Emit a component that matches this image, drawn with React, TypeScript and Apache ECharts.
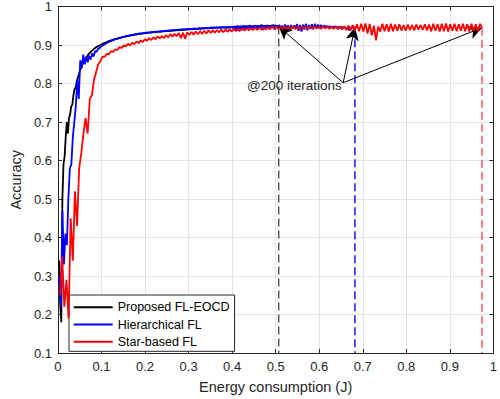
import React, { useEffect, useRef } from "react";
import * as echarts from "echarts";

const seriesNames = ["Proposed FL-EOCD", "Hierarchical FL", "Star-based FL"];
const seriesColors = ["#000000", "#0000ff", "#ff0000"];
const dashColors = ["#555555", "#0000ff", "rgba(255,0,0,0.7)"];
// energy consumed after the 200 iterations
const iterations = 200;
const energyAt200 = [0.507, 0.682, 0.974];

const accProposed = [
  0.34, 0.23, 0.18, 0.5, 0.59, 0.61, 0.66, 0.7, 0.67, 0.71,
  0.72, 0.74, 0.745, 0.77, 0.785, 0.79, 0.805, 0.815, 0.825, 0.835,
  0.84, 0.848, 0.855, 0.86, 0.865, 0.869, 0.873, 0.877, 0.88, 0.883,
  0.886, 0.888, 0.891, 0.893, 0.895, 0.896, 0.898, 0.899, 0.901, 0.902,
  0.904, 0.905, 0.906, 0.907, 0.909, 0.91, 0.911, 0.912, 0.913, 0.914,
  0.915, 0.916, 0.916, 0.917, 0.918, 0.919, 0.919, 0.92, 0.921, 0.921,
  0.922, 0.923, 0.923, 0.924, 0.924, 0.925, 0.925, 0.926, 0.926, 0.927,
  0.927, 0.928, 0.928, 0.929, 0.929, 0.929, 0.93, 0.93, 0.931, 0.931,
  0.931, 0.932, 0.932, 0.932, 0.933, 0.933, 0.934, 0.933, 0.934, 0.934,
  0.935, 0.934, 0.935, 0.935, 0.936, 0.935, 0.936, 0.936, 0.937, 0.936,
  0.937, 0.937, 0.937, 0.938, 0.937, 0.938, 0.938, 0.939, 0.938, 0.939,
  0.939, 0.939, 0.94, 0.939, 0.94, 0.94, 0.94, 0.941, 0.94, 0.941,
  0.941, 0.941, 0.942, 0.941, 0.942, 0.942, 0.942, 0.943, 0.942, 0.943,
  0.943, 0.943, 0.943, 0.944, 0.943, 0.944, 0.944, 0.944, 0.944, 0.945,
  0.944, 0.945, 0.945, 0.945, 0.945, 0.945, 0.946, 0.945, 0.946, 0.946,
  0.946, 0.946, 0.946, 0.946, 0.947, 0.946, 0.947, 0.946, 0.947, 0.947,
  0.947, 0.947, 0.947, 0.948, 0.947, 0.948, 0.947, 0.948, 0.948, 0.948,
  0.948, 0.948, 0.948, 0.949, 0.948, 0.948, 0.949, 0.948, 0.949, 0.949,
  0.949, 0.949, 0.949, 0.949, 0.949, 0.95, 0.949, 0.949, 0.95, 0.949,
  0.95, 0.949, 0.95, 0.95, 0.949, 0.95, 0.95, 0.95, 0.949, 0.948,
];

const accHierarchical = [
  0.3, 0.22, 0.47, 0.33, 0.41, 0.38, 0.5, 0.58, 0.59, 0.66,
  0.7, 0.74, 0.81, 0.76, 0.86, 0.84, 0.875, 0.85, 0.87, 0.855,
  0.872, 0.862, 0.878, 0.87, 0.884, 0.882, 0.89, 0.892, 0.896, 0.898,
  0.901, 0.903, 0.906, 0.907, 0.909, 0.911, 0.912, 0.914, 0.915, 0.916,
  0.918, 0.918, 0.92, 0.921, 0.922, 0.923, 0.924, 0.924, 0.926, 0.926,
  0.927, 0.928, 0.928, 0.929, 0.93, 0.93, 0.931, 0.931, 0.932, 0.932,
  0.933, 0.932, 0.934, 0.933, 0.935, 0.934, 0.935, 0.935, 0.936, 0.935,
  0.937, 0.936, 0.937, 0.937, 0.938, 0.937, 0.939, 0.938, 0.939, 0.939,
  0.94, 0.939, 0.941, 0.94, 0.941, 0.94, 0.942, 0.941, 0.942, 0.941,
  0.943, 0.942, 0.943, 0.941, 0.944, 0.942, 0.944, 0.943, 0.945, 0.943,
  0.945, 0.943, 0.946, 0.943, 0.946, 0.944, 0.946, 0.944, 0.947, 0.944,
  0.947, 0.944, 0.948, 0.943, 0.947, 0.945, 0.948, 0.944, 0.949, 0.938,
  0.951, 0.936, 0.95, 0.939, 0.951, 0.941, 0.95, 0.943, 0.952, 0.941,
  0.95, 0.943, 0.952, 0.94, 0.949, 0.945, 0.953, 0.939, 0.951, 0.944,
  0.952, 0.942, 0.95, 0.946, 0.953, 0.94, 0.951, 0.943, 0.952, 0.945,
  0.95, 0.941, 0.953, 0.944, 0.951, 0.939, 0.952, 0.943, 0.95, 0.946,
  0.954, 0.937, 0.952, 0.935, 0.953, 0.94, 0.955, 0.938, 0.952, 0.942,
  0.954, 0.941, 0.955, 0.943, 0.953, 0.944, 0.952, 0.945, 0.951, 0.946,
  0.95, 0.946, 0.949, 0.945, 0.948, 0.946, 0.949, 0.944, 0.948, 0.945,
  0.947, 0.944, 0.946, 0.943, 0.945, 0.938, 0.946, 0.944, 0.947, 0.946,
];

const accStar = [
  0.25, 0.35, 0.22, 0.29, 0.19, 0.45, 0.34, 0.52, 0.43, 0.58,
  0.62, 0.67, 0.71, 0.67, 0.76, 0.77, 0.81, 0.83, 0.85, 0.858,
  0.87, 0.869, 0.877, 0.876, 0.884, 0.882, 0.889, 0.887, 0.895, 0.892,
  0.899, 0.896, 0.903, 0.899, 0.906, 0.902, 0.909, 0.905, 0.912, 0.908,
  0.915, 0.911, 0.918, 0.913, 0.92, 0.915, 0.922, 0.917, 0.923, 0.918,
  0.926, 0.92, 0.928, 0.922, 0.929, 0.923, 0.931, 0.918, 0.932, 0.916,
  0.933, 0.926, 0.934, 0.927, 0.935, 0.928, 0.936, 0.929, 0.937, 0.93,
  0.938, 0.931, 0.938, 0.932, 0.939, 0.933, 0.94, 0.933, 0.94, 0.934,
  0.941, 0.935, 0.942, 0.936, 0.942, 0.937, 0.943, 0.937, 0.944, 0.938,
  0.944, 0.939, 0.945, 0.939, 0.945, 0.94, 0.946, 0.94, 0.946, 0.941,
  0.947, 0.942, 0.948, 0.941, 0.947, 0.942, 0.948, 0.942, 0.947, 0.942,
  0.948, 0.941, 0.947, 0.942, 0.948, 0.942, 0.947, 0.943, 0.948, 0.942,
  0.948, 0.943, 0.947, 0.942, 0.948, 0.943, 0.947, 0.942, 0.948, 0.942,
  0.947, 0.941, 0.948, 0.94, 0.949, 0.939, 0.95, 0.938, 0.952, 0.937,
  0.954, 0.936, 0.955, 0.935, 0.956, 0.93, 0.955, 0.925, 0.95, 0.912,
  0.948, 0.935, 0.955, 0.936, 0.954, 0.935, 0.955, 0.936, 0.953, 0.937,
  0.954, 0.938, 0.952, 0.937, 0.953, 0.939, 0.952, 0.938, 0.953, 0.94,
  0.952, 0.939, 0.954, 0.938, 0.953, 0.936, 0.955, 0.937, 0.954, 0.935,
  0.955, 0.936, 0.956, 0.935, 0.954, 0.937, 0.955, 0.936, 0.954, 0.937,
  0.955, 0.936, 0.954, 0.935, 0.955, 0.937, 0.954, 0.936, 0.955, 0.945,
];

const accuracies = [accProposed, accHierarchical, accStar];
const xTicks = { min: 0, max: 1, interval: 0.1 };
const yTicks = { min: 0.1, max: 1, interval: 0.1 };
const annotationText = "@200 iterations";
const arrowTail = [0.655, 0.802];

const FONT = "'Liberation Sans', Arial, Helvetica, sans-serif";
const AX = "#262626";

const fmt = (v: number) => String(parseFloat(v.toFixed(2)));

export default function App() {
  const ref = useRef<HTMLDivElement>(null);
  useEffect(() => {
    if (!ref.current) return;
    const chart = echarts.init(ref.current, undefined, { renderer: "svg" });

    const curves = accuracies.map((acc, s) => ({
      name: seriesNames[s],
      type: "line",
      symbol: "none",
      showSymbol: false,
      silent: true,
      z: 3 + s,
      lineStyle: { color: seriesColors[s], width: 1.8 },
      itemStyle: { color: seriesColors[s] },
      data: acc.map((a, i) => [(energyAt200[s] * (i + 1)) / iterations, a]),
    }));

    const dashes = accuracies.map((acc, s) => ({
      name: "dash" + s,
      type: "line",
      symbol: "none",
      silent: true,
      z: 2,
      lineStyle: { color: dashColors[s], width: 1.4, type: [8, 4] },
      data: [
        [energyAt200[s], acc[acc.length - 1]],
        [energyAt200[s], yTicks.min],
      ],
    }));

    const arrows = {
      name: "arrows",
      type: "line",
      symbol: "none",
      silent: true,
      z: 10,
      data: [arrowTail],
      lineStyle: { width: 0 },
      markLine: {
        silent: true,
        animation: false,
        symbol: ["none", "arrow"],
        symbolSize: [10, 13],
        label: { show: false },
        lineStyle: { color: "#000", width: 1, type: "solid" },
        data: accuracies.map((acc, s) => [
          { coord: arrowTail },
          { coord: [energyAt200[s], acc[acc.length - 1]] },
        ]),
      },
    };

    const axisCommon = {
      type: "value",
      axisLine: { show: true, onZero: false, lineStyle: { color: AX, width: 1 } },
      axisTick: { show: true, inside: true, length: 4, lineStyle: { color: AX } },
    };

    chart.setOption({
      animation: false,
      backgroundColor: "#ffffff",
      textStyle: { fontFamily: FONT },
      grid: { left: 56, right: 6, top: 6, bottom: 46 },
      xAxis: [
        {
          ...axisCommon,
          ...xTicks,
          position: "bottom",
          name: "Energy consumption (J)",
          nameLocation: "middle",
          nameGap: 26,
          nameTextStyle: { fontSize: 14.5, color: AX, fontFamily: FONT },
          axisLabel: { fontSize: 13, color: AX, margin: 7, formatter: fmt, fontFamily: FONT },
          splitLine: { show: true, lineStyle: { color: "#e3e3e3", width: 1 } },
        },
        {
          ...axisCommon,
          ...xTicks,
          position: "top",
          axisLabel: { show: false },
          splitLine: { show: false },
        },
      ],
      yAxis: [
        {
          ...axisCommon,
          ...yTicks,
          position: "left",
          name: "Accuracy",
          nameLocation: "middle",
          nameGap: 28,
          nameTextStyle: { fontSize: 14.5, color: AX, fontFamily: FONT },
          axisLabel: { fontSize: 13, color: AX, margin: 6, formatter: fmt, fontFamily: FONT },
          splitLine: { show: true, lineStyle: { color: "#e3e3e3", width: 1 } },
        },
        {
          ...axisCommon,
          ...yTicks,
          position: "right",
          axisLabel: { show: false },
          splitLine: { show: false },
        },
      ],
      legend: {
        data: seriesNames,
        orient: "vertical",
        left: 69,
        top: 295,
        itemWidth: 39,
        itemHeight: 12,
        itemGap: 4.3,
        padding: [5.7, 5, 3, 3.7],
        borderColor: AX,
        borderWidth: 1,
        borderRadius: 0,
        backgroundColor: "#ffffff",
        itemStyle: { opacity: 0 },
        lineStyle: { width: 2 },
        textStyle: { fontSize: 12.5, color: "#000", fontFamily: FONT },
        selectedMode: false,
      },
      graphic: [
        {
          type: "text",
          x: 247,
          y: 85,
          style: {
            text: annotationText,
            fontSize: 13.5,
            fontFamily: FONT,
            fill: AX,
            textVerticalAlign: "middle",
            verticalAlign: "middle",
          },
          z: 20,
        },
      ],
      series: [...dashes, ...curves, arrows],
    });
    return () => chart.dispose();
  }, []);
  return (
    <div
      ref={ref}
      style={{ position: "fixed", left: 0, top: 0, width: 500, height: 399 }}
    />
  );
}
